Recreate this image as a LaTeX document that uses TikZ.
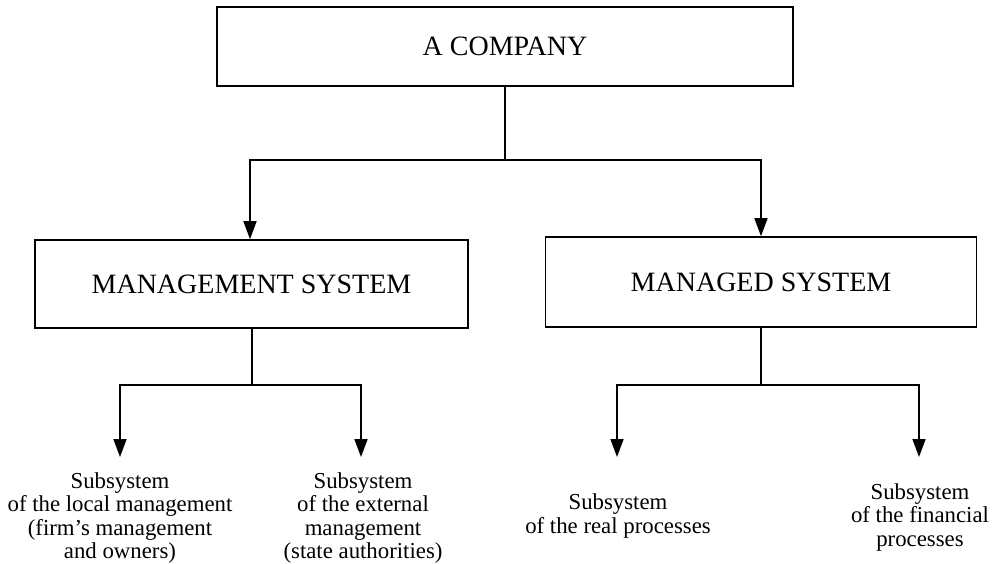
\documentclass[tikz,border=0pt]{standalone}
\usepackage{fontspec}
\setmainfont{Liberation Serif}
\usetikzlibrary{arrows.meta}
\tikzset{
  box/.style={draw, line width=1.6pt, inner sep=0pt, font=\fontsize{28}{30}\selectfont},
  sub/.style={align=center, inner sep=0pt, font=\fontsize{22.8}{23.5}\selectfont},
  link/.style={line width=1.6pt},
  arr/.style={line width=1.6pt, -{Triangle[length=18pt,width=13pt]}}
}
\begin{document}
\begin{tikzpicture}[x=1pt,y=-1pt]
\useasboundingbox (0,0) rectangle (999,563);
% boxes
\node[box, minimum width=576pt, minimum height=79pt] (co) at (505,46.5) {A COMPANY};
\node[box, minimum width=433pt, minimum height=88pt] (ms) at (251.5,284) {MANAGEMENT SYSTEM};
\node[box, minimum width=431pt, minimum height=90pt] (md) at (761,282) {MANAGED SYSTEM};
% subsystem labels
\node[sub] (s1) at (120,518) {Subsystem\\of the local management\\(firm’s management\\and owners)};
\node[sub] (s2) at (363,518) {Subsystem\\of the external\\management\\(state authorities)};
\node[sub] (s3) at (618,516) {Subsystem\\of the real processes};
\node[sub] (s4) at (920,517.5) {Subsystem\\of the financial\\processes};
% branch points
\coordinate (j0) at (505,160);
\coordinate (j1) at (252,385);
\coordinate (j2) at (761,385);
\coordinate (t1) at (120,457);
\coordinate (t2) at (361,457);
\coordinate (t3) at (617,457);
\coordinate (t4) at (919,457);
% top level
\draw[link] (co.south) -- (j0);
\draw[arr] (j0) -| (ms.north -| 250,0);
\draw[arr] (j0) -| (md.north);
% left branch
\draw[link] (ms.south -| j1) -- (j1);
\draw[arr] (j1) -| (t1);
\draw[arr] (j1) -| (t2);
% right branch
\draw[link] (md.south) -- (j2);
\draw[arr] (j2) -| (t3);
\draw[arr] (j2) -| (t4);
\end{tikzpicture}
\end{document}
